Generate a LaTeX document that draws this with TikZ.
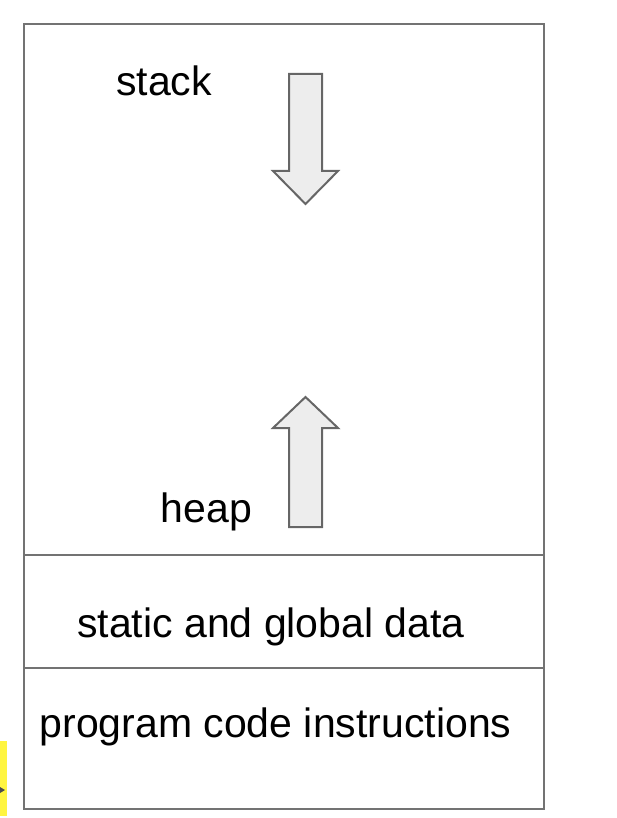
\documentclass[tikz,border=0pt]{standalone}
\usepackage{fontspec}
\setmainfont{Liberation Sans}
\begin{document}
\begin{tikzpicture}[x=1pt,y=-1pt,
  frame/.style={draw=black!55,line width=2pt},
  divider/.style={draw=black!55,line width=2pt},
  label/.style={anchor=base west,inner sep=0pt,font=\fontsize{41}{48}\selectfont},
  growarrow/.style={draw=black!60,line width=2pt,fill=black!7,line join=miter}]
\useasboundingbox (0,0) rectangle (616,818);
% yellow marker at left edge
\fill[yellow!75] (0,741) rectangle (7,816);
\fill[black!70] (0,787) -- (5,790) -- (0,793) -- cycle;
% memory box
\draw[frame] (23.5,24) rectangle (543.5,809);
\draw[divider] (23.5,555) -- (543.5,555);
\draw[divider] (23.5,668) -- (543.5,668);
% stack arrow (down)
\draw[growarrow] (289,74) -- (322,74) -- (322,171) -- (338,171) -- (305.5,204) -- (273,171) -- (289,171) -- cycle;
% heap arrow (up)
\draw[growarrow] (289,527) -- (322,527) -- (322,428) -- (338,428) -- (305.5,397) -- (273,428) -- (289,428) -- cycle;
% labels
\node[label] (stack) at (116,96) {stack};
\node[label] (heap) at (160.5,522) {heap};
\node[label] (static) at (77,637) {static and global data};
\node[label] (code) at (39.5,737) {program code instructions};
\end{tikzpicture}
\end{document}
